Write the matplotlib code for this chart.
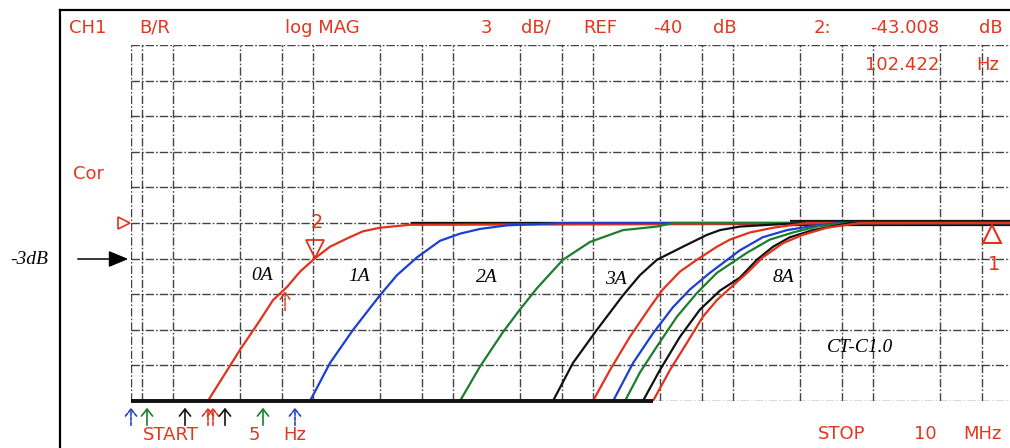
import matplotlib
matplotlib.use("Agg")
import matplotlib.pyplot as plt
from matplotlib.lines import Line2D
from matplotlib.patches import FancyArrowPatch

W, H = 1010, 448

# ---------------- data ----------------
ref_level_db = -40.0
db_per_div = 3
f_start, f_stop = 5, 1e7
grid_freqs = [5, 6, 10, 30, 60, 100, 300, 600, 1e3, 3e3, 6e3, 1e4, 3e4, 6e4,
              1e5, 3e5, 6e5, 1e6, 3e6, 6e6, 1e7]

red0_f = [5, 17.7, 30.0, 41.7, 51.7, 65.0, 80.6, 102.4, 132, 175, 227, 300, 492, 1e7]
red0_db = [-55, -55, -50.7, -48.2, -46.5, -45.4, -44.1, -43.0, -42.0, -41.3, -40.7, -40.4, -40.15, -40.0]

blue1_f = [5, 95, 132, 193, 300, 397, 552, 806, 1120, 1556, 2425, 6090, 1e7]
blue1_db = [-55, -55, -51.8, -49.0, -46.1, -44.4, -42.9, -41.5, -40.9, -40.5, -40.2, -40.0, -40.0]

green2_f = [5, 1120, 1556, 2270, 3000, 3970, 6090, 9500, 16340, 28600, 37200, 1e7]
green2_db = [-55, -55, -52.1, -49.2, -47.3, -45.5, -43.1, -41.6, -40.6, -40.3, -40.0, -40.0]

black3_f = [5, 5170, 7180, 10650, 16340, 21600, 28600, 43800, 65100, 80600, 112000, 216000, 337000, 1e7]
black3_db = [-55, -55, -51.8, -49.0, -46.1, -44.4, -43.1, -42.0, -41.0, -40.6, -40.3, -40.1, -40.0, -40.0]

red4_f = [5, 9980, 13200, 18300, 25500, 31500, 41700, 55200, 76700, 95000, 132000, 193000, 337000, 1e7]
red4_db = [-55, -55, -52.4, -49.6, -47.1, -45.6, -44.1, -43.1, -42.0, -41.4, -40.8, -40.4, -40.0, -40.0]

blue5_f = [5, 13900, 19300, 26800, 37200, 49200, 68300, 112000, 163000, 243000, 372000, 580000, 1e7]
blue5_db = [-55, -55, -51.8, -49.3, -47.1, -45.6, -44.2, -42.3, -41.2, -40.6, -40.25, -40.0, -40.0]

green6_f = [5, 16900, 21600, 28600, 39700, 55200, 76700, 126000, 183000, 268000, 397000, 630000, 1e7]
green6_db = [-55, -55, -52.6, -50.4, -47.9, -45.9, -44.2, -42.5, -41.4, -40.8, -40.3, -40.0, -40.0]

black7_f = [5, 22700, 30000, 41700, 58000, 80600, 112000, 148000, 193000, 255000, 372000, 684000, 1e7]
black7_db = [-55, -55, -52.4, -49.6, -47.3, -45.7, -44.6, -43.1, -42.0, -41.2, -40.6, -40.0, -40.0]

red8_f = [5, 26800, 35400, 46800, 60900, 76700, 95000, 126000, 163000, 227000, 315000, 468000, 806000, 1e7]
red8_db = [-55, -55, -52.4, -50.1, -47.9, -46.5, -45.5, -44.2, -42.9, -41.7, -41.0, -40.4, -40.0, -40.0]

marker2_f, marker2_db = 102.422, -43.008
marker1_f = 7.06e6
cursor_f = 63.0

curve_labels = ["0A", "1A", "2A", "3A", "8A"]

# ---------------- style ----------------
RED = "#e2321e"
BLUE = "#1d3fcf"
GREEN = "#1c7e2c"
BLACK = "#121212"
TXT = "#e3361f"

fig = plt.figure(figsize=(W / 100, H / 100), dpi=100)
fig.patch.set_facecolor("white")


def fx(x):
    return x / W


def fy(y):
    return 1 - y / H


# axes: x 131..1013 px, y 45..401 px
ax = fig.add_axes([fx(131), fy(401), (1013 - 131) / W, (401 - 45) / H])
ax.set_xscale("log")
top_db = ref_level_db + 5 * db_per_div
bot_db = ref_level_db - 5 * db_per_div
ax.set_xlim(f_start, f_stop)
ax.set_ylim(bot_db, top_db)
for s in ax.spines.values():
    s.set_visible(False)
ax.set_xticks([])
ax.set_yticks([])
ax.minorticks_off()
ax.tick_params(which="both", length=0)
ax.set_xticklabels([], minor=True)

gstyle = dict(color="#222222", lw=1.0, linestyle=(0, (6, 1.5, 1.2, 1.5)), alpha=0.85, zorder=1)
for gf in grid_freqs:
    ax.axvline(gf, **gstyle)
for k in range(11):
    ax.axhline(bot_db + k * db_per_div, **gstyle)

# thick reference bundle at -40 dB
ax.plot([red0_f[-2], f_stop], [ref_level_db, ref_level_db], color=BLACK, lw=2.4, zorder=2,
        solid_capstyle="butt")
ax.plot([black7_f[-4], f_stop], [ref_level_db, ref_level_db], color=BLACK, lw=4.5, zorder=2,
        solid_capstyle="butt")

traces = [(red0_f, red0_db, RED), (blue1_f, blue1_db, BLUE), (green2_f, green2_db, GREEN),
          (black3_f, black3_db, BLACK), (red4_f, red4_db, RED), (blue5_f, blue5_db, BLUE),
          (green6_f, green6_db, GREEN), (black7_f, black7_db, BLACK), (red8_f, red8_db, RED)]
for f, d, c in traces:
    ax.plot(f, d, color=c, lw=1.6, zorder=3, solid_joinstyle="round")

# clipped bottom of traces
ax.plot([f_start, red8_f[1]], [bot_db, bot_db], color=BLACK, lw=2.8, zorder=4,
        solid_capstyle="butt", clip_on=False)

# markers
ax.plot([marker2_f], [marker2_db + 0.85], marker="v", ms=13, mfc="none", mec=RED, mew=1.3,
        zorder=5, clip_on=False)
ax.plot([marker1_f], [ref_level_db - 0.95], marker="^", ms=13, mfc="none", mec=RED, mew=1.5,
        zorder=5, clip_on=False)
ax.plot([4.46], [ref_level_db], marker=">", ms=8, mfc="none", mec=RED, mew=1.2,
        zorder=5, clip_on=False)
ax.annotate("", xy=(cursor_f, -45.5), xytext=(cursor_f, -47.6),
            arrowprops=dict(arrowstyle="->,head_length=0.5,head_width=0.35", color=RED, lw=1.1,
                            linestyle=(0, (2, 1))), zorder=6)

# outer frame
fig.add_artist(Line2D([fx(60), fx(60)], [fy(10), 0], color="black", lw=1.6))
fig.add_artist(Line2D([fx(60), 1], [fy(10), fy(10)], color="black", lw=1.6))

# red instrument text
hp = dict(color=TXT, fontsize=13, family="DejaVu Sans", ha="center", va="center")
for s, x, y in [("CH1", 88, 28), ("B/R", 155, 28), ("log MAG", 322, 28), ("3", 486, 28),
                ("dB/", 536, 28), ("REF", 600, 28), ("-40", 668, 28), ("dB", 725, 28),
                ("2:", 822, 28), ("-43.008", 905, 28), ("dB", 991, 28),
                ("102.422", 902, 65), ("Hz", 988, 65), ("Cor", 88, 174),
                ("START", 171, 435), ("5", 254, 435), ("Hz", 295, 435),
                ("STOP", 842, 434), ("10", 925, 434), ("MHz", 982, 434)]:
    fig.text(fx(x), fy(y), s, **hp)
fig.text(fx(317), fy(222), "2", color=TXT, fontsize=14, ha="center", va="center")
fig.text(fx(994), fy(265), "1", color=TXT, fontsize=14, ha="center", va="center")

# bottom colored arrows
for x, c, dotted in [(131, BLUE, True), (147, GREEN, False), (185, BLACK, False),
                     (208, RED, True), (213, RED, True), (225, BLACK, False),
                     (263, GREEN, False), (295, BLUE, True)]:
    ls = (0, (2, 1)) if dotted else "-"
    fig.add_artist(FancyArrowPatch(
        (x, H - 428), (x, H - 405), transform=None,
        arrowstyle="->,head_length=5,head_width=4", color=c, lw=1.2, linestyle=ls))

# black serif annotations
ser = dict(color="black", fontsize=14, family="Liberation Serif", style="italic",
           ha="center", va="center")
for s, x, y in zip(curve_labels, [262, 359, 487, 616, 783], [275, 276, 278, 280, 277]):
    fig.text(fx(x), fy(y), s, **ser)
fig.text(fx(860), fy(347), "CT-C1.0", **ser)
fig.text(fx(29), fy(259), "-3dB", **ser)
fig.add_artist(FancyArrowPatch(
    (75, H - 259), (131, H - 259), transform=None,
    arrowstyle="-|>,head_length=12,head_width=5", color="black", lw=1.1))

fig.savefig("out.png", dpi=100)
